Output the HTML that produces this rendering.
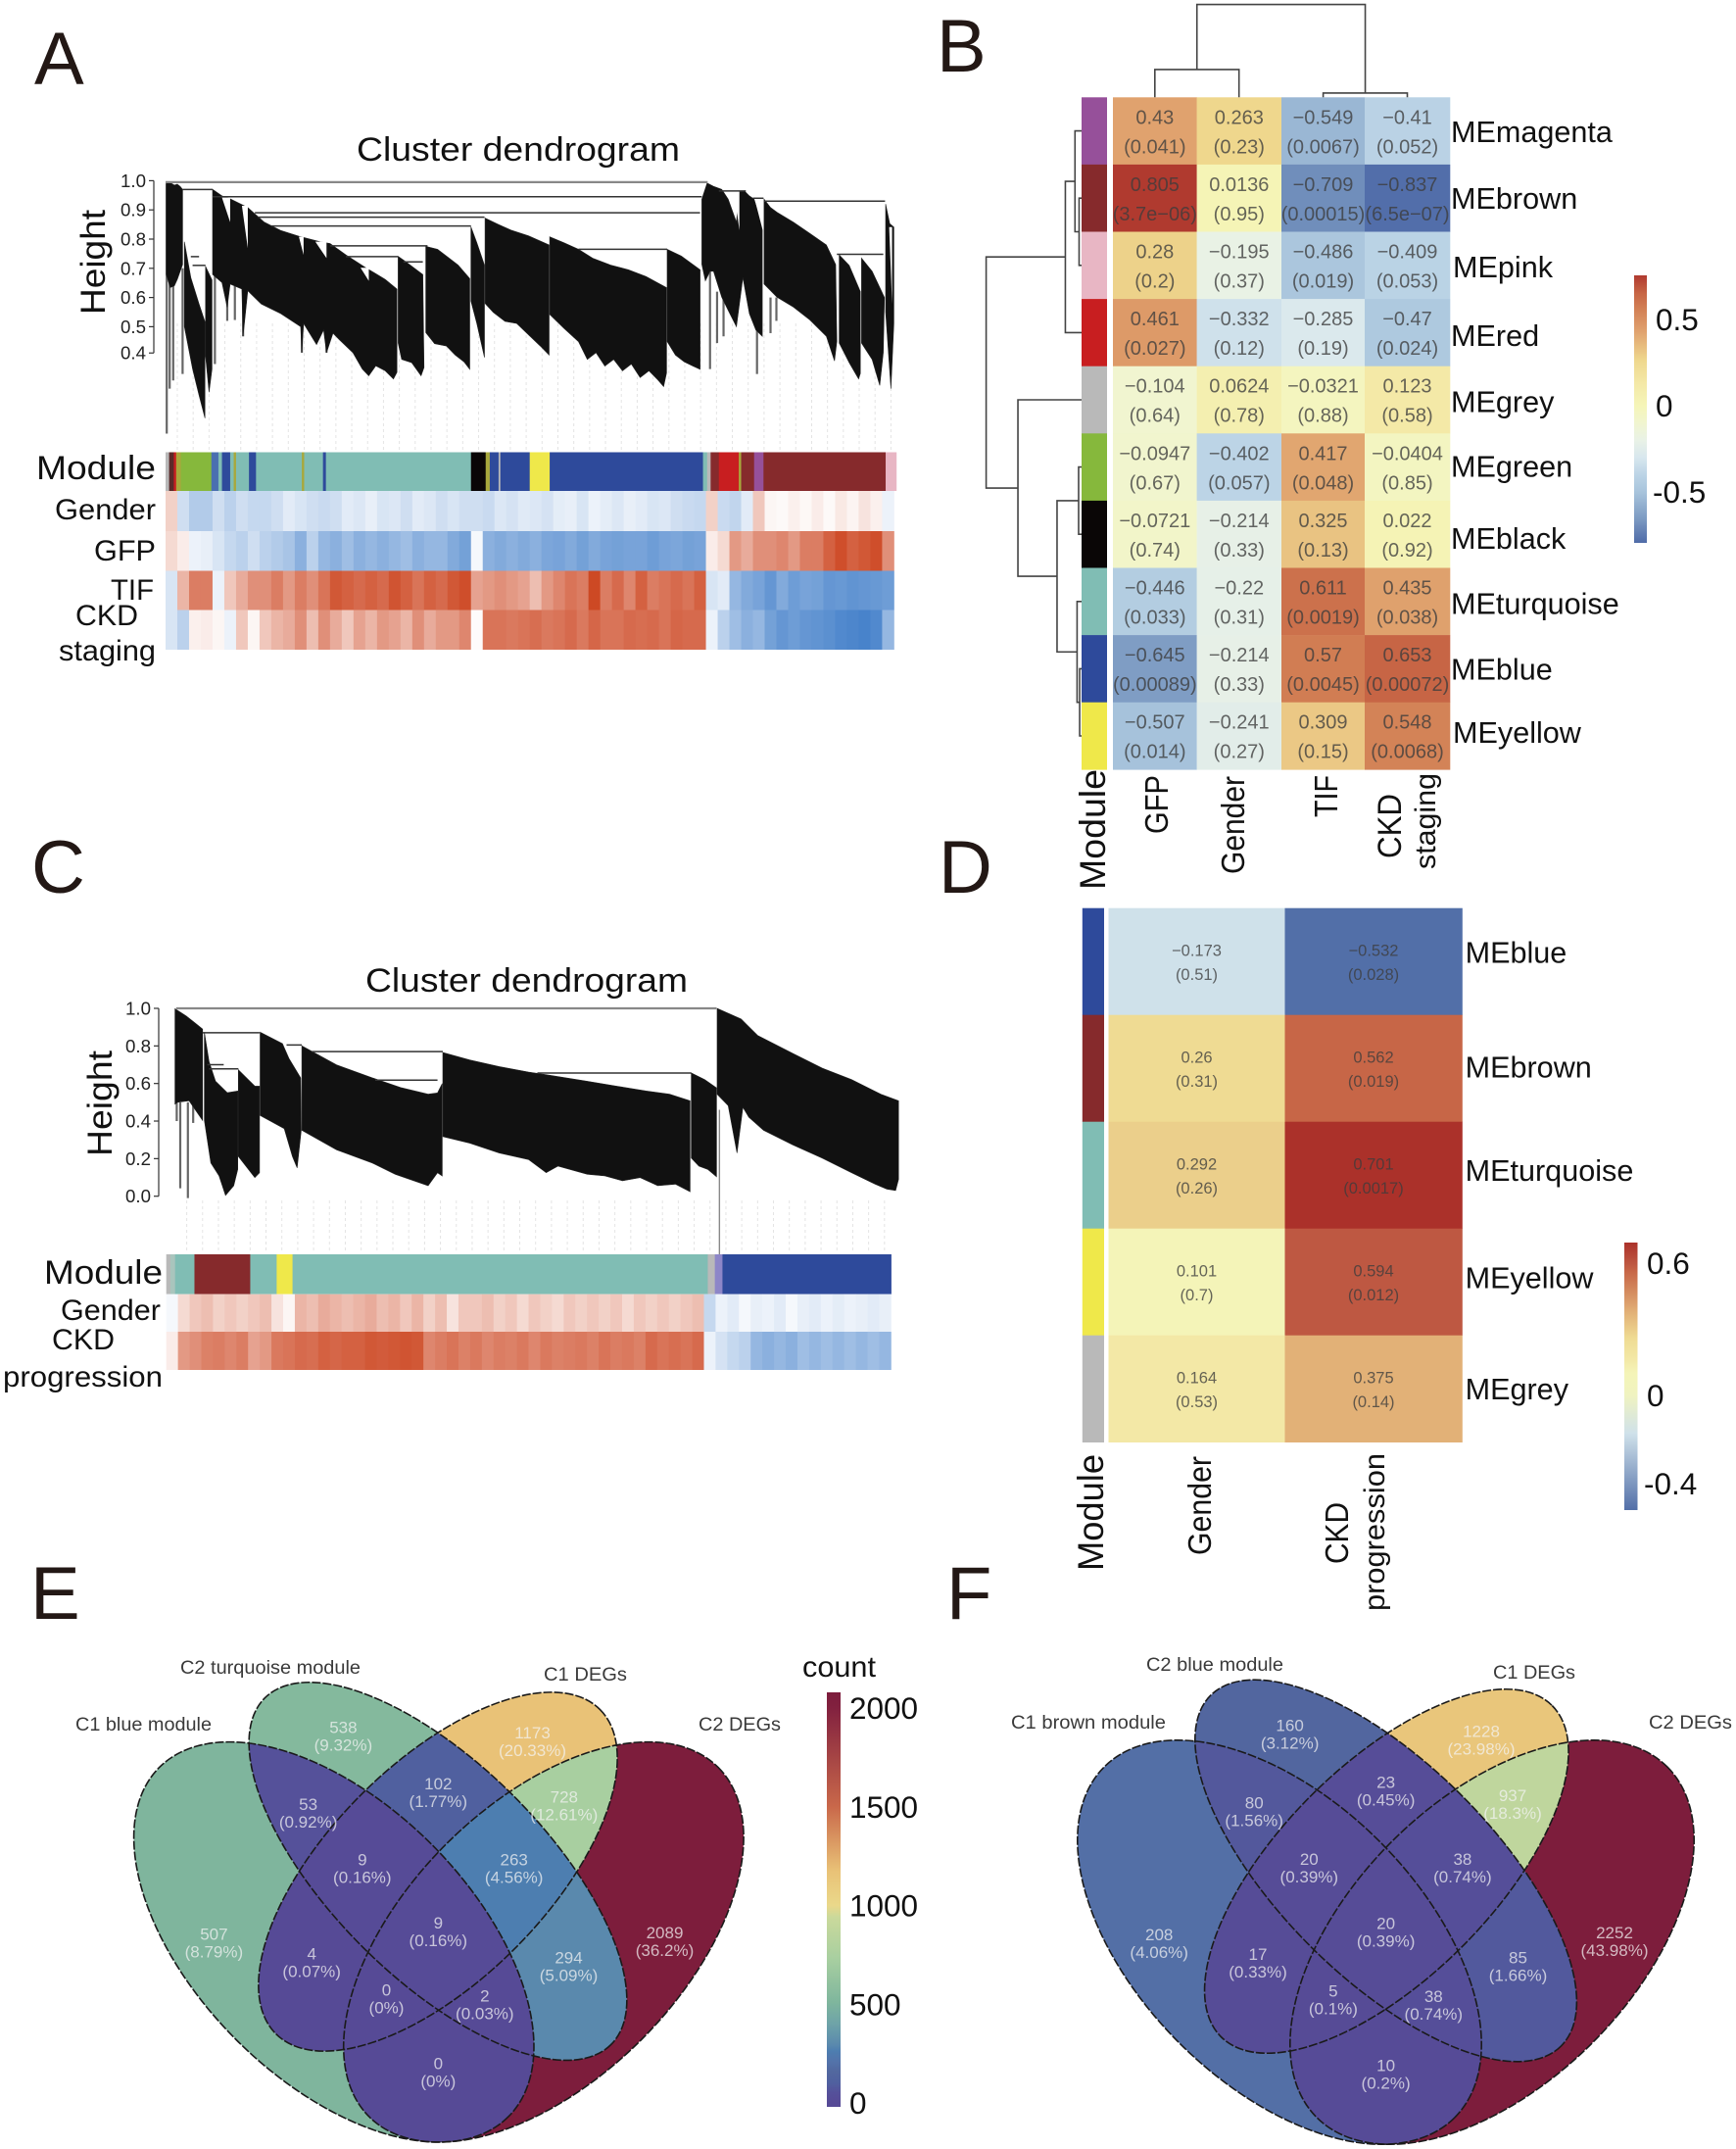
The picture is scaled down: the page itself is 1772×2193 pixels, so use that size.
<!DOCTYPE html>
<html lang="en">
<head>
<meta charset="utf-8">
<title>Module correlation figure</title>
<style>
html,body{margin:0;padding:0;background:#fff;}
svg{display:block;font-family:"Liberation Sans",sans-serif;}
.ltr{font-size:76px;fill:#231815;}
.lab{fill:#111;}
</style>
</head>
<body>
<svg id="fig" xmlns="http://www.w3.org/2000/svg" width="1772" height="2193" viewBox="0 0 1772 2193">
<rect x="0" y="0" width="1772" height="2193" fill="#fff"/>
<defs id="defs"></defs>

<!-- Panel letters -->
<text class="ltr" x="35" y="86">A</text>
<text class="ltr" x="956" y="73">B</text>
<text class="ltr" x="32" y="911">C</text>
<text class="ltr" x="958" y="911">D</text>
<text class="ltr" x="31" y="1652">E</text>
<text class="ltr" x="966" y="1652">F</text>

<!-- Panel A -->
<g id="panelA">
<text class="lab" x="364" y="164" font-size="34" textLength="330" lengthAdjust="spacingAndGlyphs">Cluster dendrogram</text>
<text class="lab" transform="translate(107,321) rotate(-90)" font-size="35" textLength="107" lengthAdjust="spacingAndGlyphs">Height</text>
<text class="lab" x="37" y="489" font-size="34" textLength="122" lengthAdjust="spacingAndGlyphs">Module</text>
<text class="lab" x="56" y="530" font-size="30" textLength="103" lengthAdjust="spacingAndGlyphs">Gender</text>
<text class="lab" x="96" y="572" font-size="30" textLength="63" lengthAdjust="spacingAndGlyphs">GFP</text>
<text class="lab" x="113" y="612" font-size="30" textLength="44" lengthAdjust="spacingAndGlyphs">TIF</text>
<text class="lab" x="77" y="638" font-size="30" textLength="64" lengthAdjust="spacingAndGlyphs">CKD</text>
<text class="lab" x="60" y="674" font-size="30" textLength="99" lengthAdjust="spacingAndGlyphs">staging</text>
</g>

<!-- Panel C -->
<g id="panelC">
<text class="lab" x="373" y="1012" font-size="34" textLength="329" lengthAdjust="spacingAndGlyphs">Cluster dendrogram</text>
<text class="lab" transform="translate(114,1180) rotate(-90)" font-size="35" textLength="108" lengthAdjust="spacingAndGlyphs">Height</text>
<text class="lab" x="45" y="1310" font-size="34" textLength="121" lengthAdjust="spacingAndGlyphs">Module</text>
<text class="lab" x="62" y="1347" font-size="30" textLength="102" lengthAdjust="spacingAndGlyphs">Gender</text>
<text class="lab" x="53" y="1377" font-size="30" textLength="64" lengthAdjust="spacingAndGlyphs">CKD</text>
<text class="lab" x="3" y="1415" font-size="30" textLength="163" lengthAdjust="spacingAndGlyphs">progression</text>
</g>

<!-- Panel B -->
<g id="panelB">
<text class="lab" transform="translate(1128,908) rotate(-90)" font-size="37" textLength="123" lengthAdjust="spacingAndGlyphs">Module</text>
<text class="lab" transform="translate(1192,851) rotate(-90)" font-size="33" textLength="60" lengthAdjust="spacingAndGlyphs">GFP</text>
<text class="lab" transform="translate(1270,892) rotate(-90)" font-size="33" textLength="100" lengthAdjust="spacingAndGlyphs">Gender</text>
<text class="lab" transform="translate(1365,834) rotate(-90)" font-size="33" textLength="43" lengthAdjust="spacingAndGlyphs">TIF</text>
<text class="lab" transform="translate(1430,876) rotate(-90)" font-size="34" textLength="66" lengthAdjust="spacingAndGlyphs">CKD</text>
<text class="lab" transform="translate(1465,887) rotate(-90)" font-size="30" textLength="98" lengthAdjust="spacingAndGlyphs">staging</text>
</g>

<!-- Panel D -->
<g id="panelD">
<text class="lab" transform="translate(1126,1603) rotate(-90)" font-size="37" textLength="119" lengthAdjust="spacingAndGlyphs">Module</text>
<text class="lab" transform="translate(1236,1587) rotate(-90)" font-size="33" textLength="101" lengthAdjust="spacingAndGlyphs">Gender</text>
<text class="lab" transform="translate(1376,1596) rotate(-90)" font-size="33" textLength="63" lengthAdjust="spacingAndGlyphs">CKD</text>
<text class="lab" transform="translate(1413,1644) rotate(-90)" font-size="30" textLength="161" lengthAdjust="spacingAndGlyphs">progression</text>
</g>

<!-- Panels E and F -->
<g id="panelE"></g>
<g id="panelF"></g>
<g id="panelLabels" fill="#3a3a3a">
<text x="184" y="1708" font-size="19" textLength="184" lengthAdjust="spacingAndGlyphs">C2 turquoise module</text>
<text x="555" y="1715" font-size="19" textLength="85" lengthAdjust="spacingAndGlyphs">C1 DEGs</text>
<text x="77" y="1766" font-size="19" textLength="139" lengthAdjust="spacingAndGlyphs">C1 blue module</text>
<text x="713" y="1766" font-size="19" textLength="84" lengthAdjust="spacingAndGlyphs">C2 DEGs</text>
<text x="1170" y="1705" font-size="19" textLength="140" lengthAdjust="spacingAndGlyphs">C2 blue module</text>
<text x="1524" y="1713" font-size="19" textLength="84" lengthAdjust="spacingAndGlyphs">C1 DEGs</text>
<text x="1032" y="1764" font-size="19" textLength="158" lengthAdjust="spacingAndGlyphs">C1 brown module</text>
<text x="1683" y="1764" font-size="19" textLength="85" lengthAdjust="spacingAndGlyphs">C2 DEGs</text>
<text x="819" y="1711" font-size="30" fill="#111" textLength="75" lengthAdjust="spacingAndGlyphs">count</text>
</g>
</svg>

<script>
/* ---------- Panel A dendrogram data (leaf index, merge height) ---------- */
const aTopLeaves = [
 [1,5,10,15,20,25,29],[32,43,57,67],[68,79],
 [80,96,108,140,168,196,230,263,280,307,341,374,394],
 [396,408,438],[443,463,478,498,518],[520,530,543],[544,568,588,618,653],
 [654,678,703,728,758,788,818,853],[854,878,910],[913,922,933,947,958,972,977,986,994,1002,1016],
 [1019,1030,1041,1069,1097,1125,1141],[1147,1164,1183],[1185,1203,1224],[1226,1233,1240]];
const aTopHeights = [
 [.995,.995,.991,.985,.988,.98,.97],[.791,.668,.578,.517],[.707,.66],
 [.97,.948,.94,.908,.858,.83,.808,.791,.785,.746,.702,.662,.629],
 [.741,.724,.679],[.775,.765,.742,.711,.665],[.842,.788,.711],[.872,.849,.831,.811,.78],
 [.808,.788,.765,.734,.711,.695,.672,.634],[.765,.742,.695],[.937,.992,.981,.97,.937,.858,.964,.964,.948,.937,.85],
 [.937,.908,.892,.858,.819,.78,.713],[.746,.71,.62],[.735,.69,.6],[.92,.853,.841]];
const aBottomLeaves = [
 [1,8,15,20,29],[32,46,57,67],[68,74,79],
 [80,96,105,110,130,132,140,163,196,230,232,235,257,269,274,285,296,319,335,346,358,374,388,394],
 [396,402,419,435,440],[443,458,478,493,508,518],[520,530,543],[544,558,578,598,618,638,653],
 [654,678,703,718,733,748,763,778,793,808,823,838,848,853],[854,868,883,898,910],[913,919,927,933,947,958,972,983,994,1005,1016],
 [1019,1041,1069,1097,1125,1139,1143],[1147,1164,1180,1183],[1185,1203,1216,1222],[1226,1235,1240]];
const aBottomHeights = [
 [.679,.634,.64,.662,.713],[.5,.355,.265,.187],[.4,.276,.355],
 [.679,.651,.567,.646,.629,.467,.623,.578,.545,.5,.411,.511,.439,.489,.411,.478,.455,.411,.355,.332,.366,.349,.321,.344],
 [.444,.388,.377,.332,.36],[.48,.442,.434,.403,.38,.354],[.588,.511,.395],[.58,.549,.518,.511,.472,.434,.403],
 [.542,.495,.449,.388,.411,.365,.388,.349,.372,.326,.349,.318,.295,.342],[.449,.403,.38,.365,.354],[.713,.657,.69,.69,.601,.556,.5,.668,.545,.489,.467],
 [.646,.601,.567,.523,.467,.383,.45],[.444,.377,.321,.34],[.444,.388,.299,.411],[.55,.288,.511]];
const aMergeFrom = [0,29,80,152,157,180,280,307,405,703,1019,1143,942,1000,43,46];
const aMergeTo   = [923,80,913,910,543,520,446,396,438,854,1225,1222,988,1018,57,68];
const aMergeH    = [.995,.97,.945,.89,.875,.845,.777,.74,.722,.765,.93,.748,.965,.94,.74,.71];
const aSpikeLeaves = [2,7,13,29,84,105,118,132,232,274,927,939,950,1007,1030,1040];
const aSpikeLow    = [.134,.288,.316,.338,.372,.52,.523,.467,.411,.411,.355,.444,.467,.338,.478,.52];
const aSpikeHigh   = [.99,.66,.66,.7,.7,.65,.64,.63,.5,.48,.7,.62,.6,.5,.6,.6];
const aNotchFrom   = [96,130,227,255,332,968,1003,1232];
const aNotchTo     = [110,140,235,274,346,977,1018,1237];
const aNotchTop    = [.942,.914,.808,.791,.702,.964,.937,.841];
const aNotchBottom = [.858,.769,.746,.735,.657,.83,.82,.577];
const aTickValues = [1,.9,.8,.7,.6,.5,.41];
const aTickLabels = ["1.0","0.9","0.8","0.7","0.6","0.5","0.4"];

/* Panel A module strip and trait tracks */
const aModuleNames = ["grey","darkred","red","olive","green","midblue","turquoise","blue","turquoise","olive","turquoise","blue","turquoise","olive","turquoise","blue","turquoise","black","olive","blue","grey","blue","yellow","blue","turquoise","grey","brown","red","olive","brown","magenta","brown","pink"];
const aModuleSpans = [6,8,4,8,52,12,6,14,6,4,22,12,78,4,32,5,247,25,7,15,3,50,34,261,7,6,14,34,4,22,16,208,18];
const aGender = [.25,-.25,-.4,-.4,-.25,-.35,-.25,-.3,-.3,-.25,
 -.15,-.2,-.25,-.28,-.25,-.15,-.18,-.12,-.2,-.18,
 -.25,-.15,-.18,-.25,-.2,-.25,-.25,-.28,-.18,-.22,
 -.16,-.18,-.22,-.14,-.12,-.2,-.1,-.14,-.18,-.12,
 -.15,-.2,-.18,-.25,-.28,-.3,.25,-.28,-.32,-.15,
 .3,.05,.03,.08,.04,.1,.03,.12,.06,.15,.08,-.1];
const aGFP = [.2,.1,-.1,-.12,-.2,-.3,-.35,-.25,-.35,-.4,
 -.45,-.6,-.35,-.55,-.6,-.5,-.6,-.55,-.6,-.55,
 -.5,-.6,-.55,-.55,-.65,-.72,-.05,-.6,-.65,-.6,
 -.65,-.6,-.68,-.7,-.65,-.72,-.65,-.7,-.72,-.7,
 -.7,-.75,-.7,-.68,-.72,-.7,.1,.2,.55,.45,
 .6,.6,.65,.55,.7,.7,.85,.95,.85,.9,.95,.6];
const aTIF = [-.2,.4,.7,.7,-.1,.3,.45,.6,.6,.7,
 .55,.7,.6,.75,.9,.85,.8,.85,.8,.92,
 .85,.75,.85,.8,.9,.95,.5,.55,.6,.55,
 .5,.35,.55,.65,.75,.7,.98,.7,.8,.65,
 .85,.7,.75,.8,.75,.85,-.2,-.15,-.55,-.65,
 -.7,-.8,-.65,-.75,-.7,-.72,-.8,-.78,-.82,-.8,-.78,-.75];
const aCKD = [-.2,-.35,.08,.1,.05,-.1,.3,.05,.3,.4,
 .45,.6,.35,.6,.45,.3,.5,.4,.55,.5,
 .4,.6,.45,.55,.55,.65,.02,.75,.75,.72,
 .75,.78,.72,.75,.8,.72,.82,.75,.75,.8,
 .78,.8,.75,.82,.8,.8,-.1,-.35,-.5,-.6,
 -.55,-.72,-.8,-.75,-.8,-.82,-.85,-.9,-.92,-.95,-.9,-.55];

/* ---------- Panel C dendrogram data ---------- */
const cTopLeaves = [[0,19,33,47],[50,58,69,89,107],[108,136,144],[145,183,194,214],
 [216,275,336,386,431,447,455],[456,502,552,602,632,702,752,802,842,877],[879,902,922],
 [923,942,964,992,1052,1102,1152,1202,1232]];
const cTopHeights = [[.998,.96,.925,.89],[.873,.717,.612,.551,.56],[.673,.586,.586],[.873,.812,.734,.63],
 [.8,.699,.63,.577,.543,.55,.6],[.765,.725,.69,.661,.647,.612,.586,.56,.543,.508],[.656,.621,.577],
 [1,.974,.943,.856,.76,.682,.621,.543,.508]];
const cBottomLeaves = [[0,5,24,47],[50,61,75,86,100,107],[108,136,144],[145,186,200,208,215],
 [216,275,336,375,431,447,455],[456,502,552,602,632,652,702,732,762,792,822,852,877],[879,892,907,922],
 [923,942,957,967,977,1002,1052,1102,1152,1192,1212,1227,1232]];
const cBottomHeights = [[.49,.5,.508,.403],[.403,.177,.108,.004,.056,.143],[.212,.099,.125],[.43,.36,.212,.151,.351],
 [.351,.247,.177,.117,.056,.125,.108],[.317,.282,.23,.195,.125,.16,.117,.108,.082,.099,.056,.064,.024],[.203,.16,.143,.104],
 [.543,.482,.23,.473,.421,.351,.273,.203,.125,.064,.038,.03,.09]];
const cMergeFrom = [2,47,190,233,341,617,55,58];
const cMergeTo   = [922,144,216,456,447,879,83,108];
const cMergeH    = [1,.87,.805,.77,.618,.656,.7,.678];
const cSpikeLeaves = [3,9,22,31];
const cSpikeLow    = [.4,.042,-.01,.39];
const cSpikeHigh   = [.5,.5,.5,.5];
const cNotchFrom = [];
const cNotchTo = [];
const cNotchTop = [];
const cNotchBottom = [];
const cTickValues = [1,.8,.6,.4,.2,0];
const cTickLabels = ["1.0","0.8","0.6","0.4","0.2","0.0"];
const cModuleNames = ["grey","paleteal","turquoise","brown","turquoise","yellow","turquoise","grey","violet","blue"];
const cModuleSpans = [7,8,33,95,45,27,707,12,13,287];
const cGender = [-.05,.2,.3,.35,.25,.3,.25,.3,.35,.15,
 .05,.4,.35,.45,.4,.35,.4,.45,.35,.4,
 .3,.4,.25,.35,.15,.3,.3,.35,.25,.3,
 .2,.3,.25,.2,.3,.25,.3,.25,.3,.2,
 .3,.25,.3,.25,.3,.35,-.3,-.1,-.15,-.05,
 -.12,-.1,-.15,-.05,-.12,-.15,-.1,-.14,-.1,-.12,-.15,-.12];
const cCKD = [.1,.55,.6,.68,.7,.65,.7,.5,.55,.72,
 .75,.8,.78,.85,.82,.85,.85,.9,.88,.9,
 .92,.9,.65,.7,.75,.68,.72,.65,.7,.68,
 .72,.65,.72,.68,.7,.72,.68,.75,.7,.72,
 .68,.8,.75,.78,.75,.8,-.1,-.22,-.3,-.35,
 -.55,-.6,-.55,-.6,-.5,-.55,-.5,-.55,-.5,-.55,-.5,-.55];

/* ---------- Panel B heat map data ---------- */
const bRows = ["MEmagenta","MEbrown","MEpink","MEred","MEgrey","MEgreen","MEblack","MEturquoise","MEblue","MEyellow"];
const bRowModules = ["magenta","brown","pink","red","grey","green","black","turquoise","blue","yellow"];
const bValues = [
 [.43,.263,-.549,-.41],[.805,.0136,-.709,-.837],[.28,-.195,-.486,-.409],[.461,-.332,-.285,-.47],
 [-.104,.0624,-.0321,.123],[-.0947,-.402,.417,-.0404],[-.0721,-.214,.325,.022],
 [-.446,-.22,.611,.435],[-.645,-.214,.57,.653],[-.507,-.241,.309,.548]];
const bPValues = [
 ["0.041","0.23","0.0067","0.052"],["3.7e\u221206","0.95","0.00015","6.5e\u221207"],["0.2","0.37","0.019","0.053"],["0.027","0.12","0.19","0.024"],
 ["0.64","0.78","0.88","0.58"],["0.67","0.057","0.048","0.85"],["0.74","0.33","0.13","0.92"],
 ["0.033","0.31","0.0019","0.038"],["0.00089","0.33","0.0045","0.00072"],["0.014","0.27","0.15","0.0068"]];
const bLegendTicks = [0.5,0,-0.5];
const bLegendLabels = ["0.5","0","-0.5"];
const bRowMerge = [[-2,-3],[-1,1],[-4,2],[-6,-7],[-9,-10],[-8,5],[4,6],[-5,7],[3,8]];
const bRowHeight = [.026,.069,.17,.031,.02,.047,.257,.667,1];
const bColMerge = [[-1,-2],[-3,-4],[1,2]];
const bColHeight = [.3,.046,1];

/* ---------- Panel D heat map data ---------- */
const dRows = ["MEblue","MEbrown","MEturquoise","MEyellow","MEgrey"];
const dRowModules = ["blue","brown","turquoise","yellow","grey"];
const dValues = [[-.173,-.532],[.26,.562],[.292,.701],[.101,.594],[.164,.375]];
const dPValues = [["0.51","0.028"],["0.31","0.019"],["0.26","0.0017"],["0.7","0.012"],["0.53","0.14"]];
const dLegendTicks = [0.6,0,-0.4];
const dLegendLabels = ["0.6","0","-0.4"];

/* ---------- Venn data: set membership order shared by E and F ---------- */
const vennMembers = [[0],[1],[2],[3],[0,1],[1,2],[2,3],[0,1,2],[1,2,3],[0,1,2,3],[0,2],[1,3],[0,2,3],[0,1,3],[0,3]];
const eCounts = [507,538,1173,2089,53,102,728,9,263,9,4,294,0,2,0];
const ePercents = ["8.79%","9.32%","20.33%","36.2%","0.92%","1.77%","12.61%","0.16%","4.56%","0.16%","0.07%","5.09%","0%","0.03%","0%"];
const fCounts = [208,160,1228,2252,80,23,937,20,38,20,17,85,5,38,10];
const fPercents = ["4.06%","3.12%","23.98%","43.98%","1.56%","0.45%","18.3%","0.39%","0.74%","0.39%","0.33%","1.66%","0.1%","0.74%","0.2%"];
const countLegendTicks = [2000,1500,1000,500,0];
const countLegendLabels = ["2000","1500","1000","500","0"];

/* ---------- layout and colour scales ---------- */
const moduleColors = {grey:"#b9b9b9",darkred:"#5b2a2a",red:"#c81e20",olive:"#a8a83c",green:"#86b83c",midblue:"#4a6fb0",
 turquoise:"#80bdb4",blue:"#2e4a9b",black:"#0a0606",yellow:"#efe84a",brown:"#862a2c",magenta:"#96509a",pink:"#e8b6c4",
 paleteal:"#a9c5bd",violet:"#8d86c8"};
const bScaleV = [-.85,-.65,-.5,-.4,-.3,-.2,-.1,0,.12,.26,.43,.57,.65,.805];
const bScaleC = ["#4f6ba8","#7e9cc3","#a8c4dc","#bcd4e6","#d8e7ee","#e9f2e6","#f1f5cf","#f5f5b8","#f4e9a8","#efd88e","#e0a26e","#d17d53","#c76645","#b03a2f"];
const dScaleV = [-.532,-.173,0,.101,.164,.26,.375,.562,.594,.701];
const dScaleC = ["#526fa8","#cfe1ea","#f0f3c0","#f4f4b8","#f3e8a6","#efdb93","#e2b177","#c76647","#be5842","#ab312a"];
const vScaleV = [0,50,100,160,210,263,294,400,510,730,940,1000,1173,1500,2000,2100];
const vScaleC = ["#564a96","#55509a","#50609f","#52689f","#5373aa","#4d7eb0","#5a89ad","#6ea3a8","#7fb69d","#a8cfa0","#cad99b","#ead88a","#e9c277","#c9684a","#82213f","#7c1c3c"];
const vennLabelX = {e:[218.4,350.4,543.5,678.5,314.6,447.3,575.8,369.8,524.7,447.3,318.2,580.5,394.5,494.8,447.3],
 f:[1183.2,1316.6,1512,1648,1280.2,1414.6,1544,1336.3,1492.9,1414.6,1284,1549.5,1360.9,1463.3,1414.6]};
const vennLabelY = {e:[1973.6,1762.7,1768.2,1971.9,1841,1819.9,1833.5,1897.4,1897.4,1962,1993.3,1997.4,2030.7,2036.5,2105.6],
 f:[1974,1760.7,1766.5,1971.9,1839.6,1818.5,1831.8,1897,1897,1962.7,1994,1997.4,2031.4,2036.9,2107.3]};
const vennShapes = {
 e:[[340.8,1981.8,252,141,45],[447,1909.6,250,109,45],[447,1910,234,111,-45],[554.9,1981.8,252,141,-45]],
 f:[[1306,1982,253,145,45],[1414.6,1909,253,109,45],[1415.3,1909.5,239,109,-45],[1523,1982,253,145,-45]]};

const NS = "http://www.w3.org/2000/svg";
const defs = document.getElementById("defs");
function mk(tag, attrs, parent){
  const n = document.createElementNS(NS, tag);
  for (const k in attrs) n.setAttribute(k, attrs[k]);
  parent.appendChild(n);
  return n;
}
function hex(c){return [parseInt(c.slice(1,3),16),parseInt(c.slice(3,5),16),parseInt(c.slice(5,7),16)];}
function ramp(vs, cs, v){
  if (v <= vs[0]) return cs[0];
  for (let i = 1; i < vs.length; i++){
    if (v <= vs[i]){
      const t = (v - vs[i-1])/(vs[i]-vs[i-1]), a = hex(cs[i-1]), b = hex(cs[i]);
      return "rgb("+a.map((x,j)=>Math.round(x+(b[j]-x)*t)).join(",")+")";
    }
  }
  return cs[cs.length-1];
}
function trackColor(v){
  const a = v<0 ? [62,124,200] : [204,69,32], t = Math.min(1,Math.abs(v));
  return "rgb("+a.map(x=>Math.round(255+(x-255)*t)).join(",")+")";
}
function fmt(v){return String(v).replace("-","\u2212");}

/* ---------- dendrogram panels ---------- */
const aX = l => 169 + l*743.4/1240;
const aY = h => 184.4 + (1-h)*298;
const cX = l => 178.6 + l/1.668;
const cY = h => 1029 + (1-h)*191.7;
const aStripX = u => 169 + u/1.668;
const cStripX = u => 169.7 + u/1.668;

function drawDendro(parent, X, Y, tl, th, bl, bh, mf, mt, mh, sl, sLow, sHigh, nf, nt, nTop, nBot, guideTop, guideBottom, guideEnd){
  for (let l = 20; l < guideEnd; l += 27){
    const g = mk("line",{x1:X(l),x2:X(l),y1:guideTop,y2:guideBottom,stroke:"#e4e4e4","stroke-width":1,"stroke-dasharray":"3 3"},parent);
    
    
  }
  sl.forEach((l,i)=>{
    const s = mk("line",{x1:X(l),x2:X(l),y1:Y(sHigh[i]),y2:Y(sLow[i]),stroke:"#666","stroke-width":2.2},parent);
    
    
  });
  tl.forEach((leaves,i)=>{
    let d = "";
    leaves.forEach((l,j)=>{ d += (j?"L":"M")+X(l).toFixed(1)+" "+Y(th[i][j]).toFixed(1); });
    for (let j = bl[i].length-1; j >= 0; j--) d += "L"+X(bl[i][j]).toFixed(1)+" "+Y(bh[i][j]).toFixed(1);
    const p = mk("path",{d:d+"Z",fill:"#111",stroke:"#222","stroke-width":0.6},parent);
    
    
  });
  nf.forEach((l,i)=>{
    const d = "M"+X(l)+" "+Y(nTop[i])+"L"+X(nt[i])+" "+Y(nTop[i])+"L"+X(nt[i])+" "+Y(nBot[i])+"Z";
    const w = mk("path",{d:d,fill:"#fff"},parent);
    
    
  });
  mf.forEach((l,i)=>{
    const m = mk("line",{x1:X(l),x2:X(mt[i]),y1:Y(mh[i]),y2:Y(mh[i]),stroke:i===0?"#888":"#333","stroke-width":i===0?2.2:1.5},parent);
    
    
  });
}
function drawAxis(parent, x, Y, values, labels, fs, labelW){
  const ax = mk("line",{x1:x,x2:x,y1:Y(values[0]),y2:Y(values[values.length-1]),stroke:"#333","stroke-width":1.2},parent);
  
  
  values.forEach((v,i)=>{
    const t = mk("line",{x1:x-5,x2:x,y1:Y(v),y2:Y(v),stroke:"#333","stroke-width":1.2},parent);
    
    
    const lb = mk("text",{x:x-8,y:Y(v)+6.5,"text-anchor":"end","font-size":fs,fill:"#222",textLength:labelW,lengthAdjust:"spacingAndGlyphs"},parent);
    
    
    lb.textContent = labels[i];
  });
}
function drawModuleStrip(parent, X, y0, y1, names, spans){
  let u = 0;
  names.forEach((name,i)=>{
    const r = mk("rect",{x:X(u),y:y0,width:spans[i]/1.668+.4,height:y1-y0,fill:moduleColors[name]},parent);
    
    
    u += spans[i];
  });
}
function drawTrack(parent, X, y0, y1, values, bin, trackName){
  values.forEach((v,i)=>{
    const r = mk("rect",{x:X(i*bin),y:y0,width:bin/1.668+.4,height:y1-y0,fill:trackColor(v)},parent);
    
    
  });
}
const pA = document.getElementById("panelA"), pC = document.getElementById("panelC");
drawDendro(pA,aX,aY,aTopLeaves,aTopHeights,aBottomLeaves,aBottomHeights,aMergeFrom,aMergeTo,aMergeH,aSpikeLeaves,aSpikeLow,aSpikeHigh,aNotchFrom,aNotchTo,aNotchTop,aNotchBottom,330,460,1240);
drawAxis(pA,157,aY,aTickValues,aTickLabels,18,26);
drawModuleStrip(pA,aStripX,461.5,501,aModuleNames,aModuleSpans);
drawTrack(pA,aStripX,501,542,aGender,20,'gender-track-cell');
drawTrack(pA,aStripX,542,582.5,aGFP,20,'gfp-track-cell');
drawTrack(pA,aStripX,582.5,622.5,aTIF,20,'tif-track-cell');
drawTrack(pA,aStripX,622.5,663,aCKD,20,'ckd-track-cell');

drawDendro(pC,cX,cY,cTopLeaves,cTopHeights,cBottomLeaves,cBottomHeights,cMergeFrom,cMergeTo,cMergeH,cSpikeLeaves,cSpikeLow,cSpikeHigh,cNotchFrom,cNotchTo,cNotchTop,cNotchBottom,1225,1279,1232);
const cDrop = mk("line",{x1:cX(927),x2:cX(927),y1:cY(.46),y2:1280,stroke:"#888","stroke-width":1.4},pC);


drawAxis(pC,162,cY,cTickValues,cTickLabels,18,26);
drawModuleStrip(pC,cStripX,1280,1320.7,cModuleNames,cModuleSpans);
drawTrack(pC,cStripX,1320.7,1359,cGender,19.9,'gender-track-cell');
drawTrack(pC,cStripX,1359,1398,cCKD,19.9,'ckd-progression-track-cell');

/* ---------- tree helper ---------- */
function drawTree(parent, merge, heights, leafPx, hPx, horizontal){
  const pos = [];
  const info = c => c<0 ? {p:leafPx(-c-1),h:0} : {p:pos[c-1],h:heights[c-1]};
  merge.forEach((m,i)=>{
    const a = info(m[0]), b = info(m[1]), h = heights[i];
    pos[i] = (a.p+b.p)/2;
    const pt = (p,hh)=> horizontal ? hPx(hh)+" "+p : p+" "+hPx(hh);
    const d = "M"+pt(a.p,a.h)+"L"+pt(a.p,h)+"L"+pt(b.p,h)+"L"+pt(b.p,b.h);
    const l = mk("path",{d:d,fill:"none",stroke:"#444","stroke-width":1.6},parent);
    
    
  });
}

/* ---------- heat maps ---------- */
function drawGradient(id, vs, cs, top, bottom, yOf){
  const g = mk("linearGradient",{id:id,x1:0,y1:0,x2:0,y2:1},defs);
  for (let i = vs.length-1; i >= 0; i--){
    const o = (yOf(vs[i])-top)/(bottom-top);
    mk("stop",{offset:Math.min(1,Math.max(0,o)),"stop-color":cs[i]},g);
  }
  
  
}
function drawHeatmap(parent, rows, modules, values, pvals, colEdges, rowTop, rowH, stripX, stripW, vs, cs, fs, lineA, lineB, labelX, labelY){
  rows.forEach((name,r)=>{
    const y = rowTop + r*rowH;
    const s = mk("rect",{x:stripX,y:y,width:stripW,height:rowH+.3,fill:moduleColors[modules[r]]},parent);
    
    
    values[r].forEach((v,c)=>{
      const x0 = colEdges[c], x1 = colEdges[c+1], cx = (x0+x1)/2;
      const cell = mk("rect",{x:x0,y:y,width:x1-x0+.3,height:rowH+.3,fill:ramp(vs,cs,v)},parent);
      
      
      const t1 = mk("text",{x:cx,y:y+lineA,"text-anchor":"middle","font-size":fs,fill:"#3c3c3c","fill-opacity":.78},parent);
      
      
      t1.textContent = fmt(v);
      const t2 = mk("text",{x:cx,y:y+lineB,"text-anchor":"middle","font-size":fs,fill:"#3c3c3c","fill-opacity":.78},parent);
      
      
      t2.textContent = "("+pvals[r][c]+")";
    });
    const lab = mk("text",{x:labelX[r],y:labelY[r],"font-size":30.6,fill:"#111"},parent);
    
    
    lab.textContent = name;
  });
}
function drawLegend(parent, id, vs, cs, x, w, top, bottom, yOf, ticks, labels, labelX){
  drawGradient(id,vs,cs,top,bottom,yOf);
  const bar = mk("rect",{x:x,y:top,width:w,height:bottom-top,fill:"url(#"+id+")"},parent);
  
  
  ticks.forEach((v,i)=>{
    const t = mk("text",{x:labels[i].charAt(0)==="-"?labelX-3:labelX,y:yOf(v)+11,"font-size":31.5,fill:"#111"},parent);
    
    
    t.textContent = labels[i];
  });
}
const pB = document.getElementById("panelB"), pD = document.getElementById("panelD");
drawHeatmap(pB,bRows,bRowModules,bValues,bPValues,[1136,1221.6,1308,1393,1480],99.3,68.6,1104,26,bScaleV,bScaleC,20,27,57,
 [1481,1481,1483,1481,1481,1481,1481,1481,1481,1483],[145,213,283,353,420.5,486.5,560,626.5,693.5,758]);
drawTree(pB,bRowMerge,bRowHeight,r=>133.6+68.6*r,h=>1104-h*97.4,true);
drawTree(pB,bColMerge,bColHeight,c=>1178.8+85.9*c,h=>99.3-h*94.7,false);
drawLegend(pB,"gradB",bScaleV,bScaleC,1668,13,281,554,v=>414-v*176,bLegendTicks,bLegendLabels,1690);
drawHeatmap(pD,dRows,dRowModules,dValues,dPValues,[1131.5,1311.5,1492.5],926.7,109,1104.8,22.2,dScaleV,dScaleC,16.5,49,73.5,
 [1495.6,1495.6,1495.6,1495.6,1495.6],[982.4,1099.7,1205,1314.4,1428]);
drawLegend(pD,"gradD",dScaleV,dScaleC,1658,13.5,1268,1541,v=>1424-v*225,dLegendTicks,dLegendLabels,1681);

/* ---------- Venn diagrams ---------- */
function drawVenn(parent, key, counts, percents, maxCount){
  const shapes = vennShapes[key];
  shapes.forEach((s,i)=>{
    const cp = mk("clipPath",{id:key+"clip"+i},defs);
    mk("ellipse",{cx:s[0],cy:s[1],rx:s[2],ry:s[3],transform:"rotate("+s[4]+" "+s[0]+" "+s[1]+")"},cp);
  });
  const order = vennMembers.map((m,i)=>i).sort((a,b)=>vennMembers[a].length-vennMembers[b].length);
  order.forEach(i=>{
    let host = parent;
    vennMembers[i].forEach(m=>{ host = mk("g",{"clip-path":"url(#"+key+"clip"+m+")"},host); });
    const r = mk("rect",{x:key==="e"?60:1000,y:1690,width:772,height:503,fill:ramp(vScaleV,vScaleC,counts[i]*2089/maxCount)},host);
    
    
  });
  shapes.forEach(s=>{
    const o = mk("ellipse",{cx:s[0],cy:s[1],rx:s[2],ry:s[3],transform:"rotate("+s[4]+" "+s[0]+" "+s[1]+")",fill:"none",stroke:"#1a1a1a","stroke-width":1.6,"stroke-dasharray":"9 2"},parent);
    
    
  });
  counts.forEach((c,i)=>{
    const x = vennLabelX[key][i], y = vennLabelY[key][i];
    const a = mk("text",{x:x,y:y+6,"text-anchor":"middle","font-size":17,fill:"#f4f4f4","fill-opacity":.72},parent);
    
    
    a.textContent = c;
    const b = mk("text",{x:x,y:y+24,"text-anchor":"middle","font-size":17,fill:"#f4f4f4","fill-opacity":.72},parent);
    
    
    b.textContent = "("+percents[i]+")";
  });
}
drawVenn(document.getElementById("panelE"),"e",eCounts,ePercents,2089);
drawVenn(document.getElementById("panelF"),"f",fCounts,fPercents,2252);
drawLegend(document.getElementById("panelE"),"gradV",vScaleV,vScaleC,844,14,1727,2150,v=>2146-v*.2015,countLegendTicks,countLegendLabels,867);
</script>
</body>
</html>
